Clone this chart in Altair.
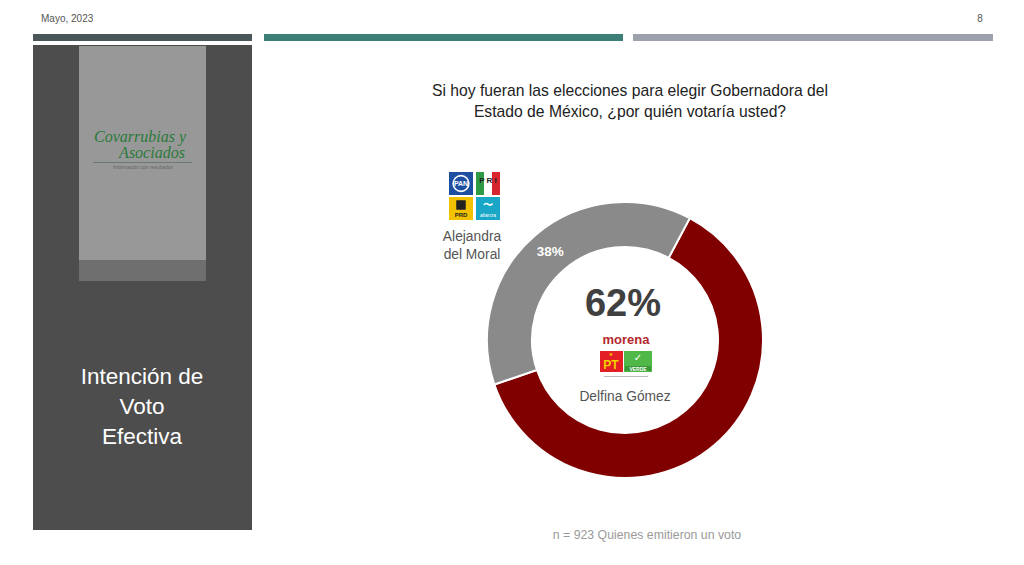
import math
import altair as alt
import pandas as pd

# ---- data ----
candidates = ["Delfina Gómez", "Alejandra del Moral"]
name_lines = [["Delfina Gómez"], ["Alejandra", "del Moral"]]
shares = [62, 38]
colors = ["#800000", "#8a8a8a"]

title_lines = ["Si hoy fueran las elecciones para elegir Gobernadora del",
               "Estado de México, ¿por quién votaría usted?"]
panel_lines = ["Intención de", "Voto", "Efectiva"]
footer = "n = 923 Quienes emitieron un voto"
date_text = "Mayo, 2023"
page_no = "8"

FONT = "Liberation Sans, Arial, sans-serif"

df = pd.DataFrame({"candidate": candidates, "share": shares, "idx": [0, 1]})
df["label"] = df["share"].astype(str) + "%"

one = pd.DataFrame({"k": [0]})
OX, OY = 8, 8  # page margin offset


def rect(x1, y1, x2, y2, color, **kw):
    return alt.Chart(one).mark_rect(color=color, **kw).encode(
        x=alt.value(x1 - OX), x2=alt.value(x2 - OX),
        y=alt.value(y1 - OY), y2=alt.value(y2 - OY))


def txt(s, x, y, size, color, weight="normal", font=FONT, align="center", style="normal", **kw):
    return alt.Chart(one).mark_text(
        text=s, fontSize=size, color=color, fontWeight=weight, font=font,
        align=align, baseline="middle", fontStyle=style, **kw
    ).encode(x=alt.value(x - OX), y=alt.value(y - OY))


def circ(x, y, size, color, **kw):
    return alt.Chart(one).mark_point(filled=True, size=size, color=color, opacity=1, **kw).encode(
        x=alt.value(x - OX), y=alt.value(y - OY))


layers = []
# header
layers.append(txt(date_text, 41, 19, 10, "#555555", align="left"))
layers.append(txt(page_no, 980, 19, 10, "#555555"))
layers.append(rect(33, 34, 252, 41, "#4b565b"))
layers.append(rect(264, 34, 623, 41, "#3b7f77"))
layers.append(rect(633, 34, 993, 41, "#9ca1ab"))

# left panel
layers.append(rect(33, 45, 252, 530, "#4d4d4d"))
layers.append(rect(79, 46, 206, 281, "#989898"))
layers.append(rect(79, 260, 206, 281, "#6f6f6f"))
layers.append(txt("Covarrubias y", 140, 137, 16, "#2a7a3a", font="Liberation Serif", style="italic"))
layers.append(txt("Asociados", 152, 153, 16, "#2a7a3a", font="Liberation Serif", style="italic"))
layers.append(rect(93, 162, 192, 163, "#6b7a6e"))
layers.append(txt("Información con resultados", 143, 167, 5, "#666666"))
for i, line in enumerate(panel_lines):
    layers.append(txt(line, 142, 377 + 30 * i, 22.5, "#ffffff"))

# title
for i, line in enumerate(title_lines):
    layers.append(txt(line, 630, 91 + 21 * i, 15.7, "#222222"))

# donut
start = math.radians(28)
theta = alt.Theta("share:Q", stack=True,
                  scale=alt.Scale(domain=[0, sum(shares)], range=[start, start + 2 * math.pi]))
CX, CY = 625, 340
donut = alt.Chart(df).mark_arc(outerRadius=138, innerRadius=93, stroke="white", strokeWidth=2).encode(
    theta=theta,
    color=alt.Color("candidate:N", scale=alt.Scale(domain=candidates, range=colors), legend=None),
    order=alt.Order("idx:Q"),
    x=alt.value(CX - OX), y=alt.value(CY - OY),
)
layers.append(donut)

ring_label = alt.Chart(df).mark_text(radius=115.5, fontSize=13.5, fontWeight="bold", font=FONT,
                                     color="white", baseline="middle").encode(
    theta=theta,
    order=alt.Order("idx:Q"),
    text="label:N",
    opacity=alt.condition(alt.datum.candidate == candidates[1], alt.value(1), alt.value(0)),
    x=alt.value(CX - OX), y=alt.value(CY - OY),
)
layers.append(ring_label)

big = alt.Chart(df).transform_filter(alt.datum.candidate == candidates[0]).mark_text(
    fontSize=38, fontWeight="bold", font=FONT, color="#404040", baseline="middle").encode(
    text="label:N", x=alt.value(623 - OX), y=alt.value(305 - OY))
layers.append(big)

# candidate names
name_df = pd.DataFrame({"candidate": candidates, "name": name_lines})
names_red = alt.Chart(name_df).transform_filter(alt.datum.candidate == candidates[0]).mark_text(
    fontSize=13.8, font=FONT, color="#555555", baseline="middle").encode(
    text="candidate:N", x=alt.value(625 - OX), y=alt.value(397 - OY))
layers.append(names_red)
names_gray = alt.Chart(name_df).transform_filter(alt.datum.candidate == candidates[1]).mark_text(
    fontSize=13.8, font=FONT, color="#555555", baseline="middle", lineHeight=18).encode(
    text="name", x=alt.value(472 - OX), y=alt.value(237 - OY))
layers.append(names_gray)

# coalition logos (PAN, PRI, PRD, Nueva Alianza)
layers.append(rect(449, 172, 473, 195, "#1d4fa0"))
layers.append(circ(461, 183.5, 300, "#ffffff"))
layers.append(circ(461, 183.5, 200, "#1d4fa0"))
layers.append(txt("PAN", 461, 184, 7, "#ffffff", weight="bold"))
layers.append(rect(476, 172, 500, 195, "#ffffff"))
layers.append(rect(476, 172, 484, 195, "#2f9a45"))
layers.append(rect(492, 172, 500, 195, "#d7262e"))
layers.append(txt("P R I", 488, 181, 8, "#222222", weight="bold"))
layers.append(rect(449, 197, 473, 220, "#f2c200"))
layers.append(circ(461, 205, 90, "#222222", shape="diamond"))
layers.append(circ(461, 205, 90, "#222222", shape="square"))
layers.append(txt("PRD", 461, 215, 6, "#222222", weight="bold"))
layers.append(rect(476, 197, 500, 220, "#1aa6c7"))
layers.append(txt("〜", 488, 205, 10, "#ffffff", weight="bold", font="DejaVu Sans"))
layers.append(txt("alianza", 488, 215, 5, "#ffffff"))

# Morena / PT / Verde logos
layers.append(txt("morena", 626, 340, 13, "#b3282d", weight="bold"))
layers.append(rect(600, 351, 623, 372, "#e31e24"))
layers.append(txt("★", 611, 354, 5, "#f5d000", font="DejaVu Sans"))
layers.append(txt("PT", 611, 365, 12, "#f5d000", weight="bold"))
layers.append(rect(624, 351, 652, 372, "#4fb848"))
layers.append(txt("✓", 638, 358, 10, "#ffffff", weight="bold", font="DejaVu Sans"))
layers.append(rect(625, 366, 651, 371, "#3a9a3a"))
layers.append(txt("VERDE", 638, 368.5, 5, "#ffffff", weight="bold"))
layers.append(rect(604, 376, 648, 377, "#bbbbbb"))

# footer
layers.append(txt(footer, 647, 535, 12.3, "#9a9a9a"))

chart = alt.layer(*layers).properties(
    width=1008, height=549, padding=0, autosize=alt.AutoSizeParams(type="none"),
    background="#ffffff"
).configure_view(strokeWidth=0)

chart.save("out.html", embed_options={"renderer": "svg", "actions": False})
